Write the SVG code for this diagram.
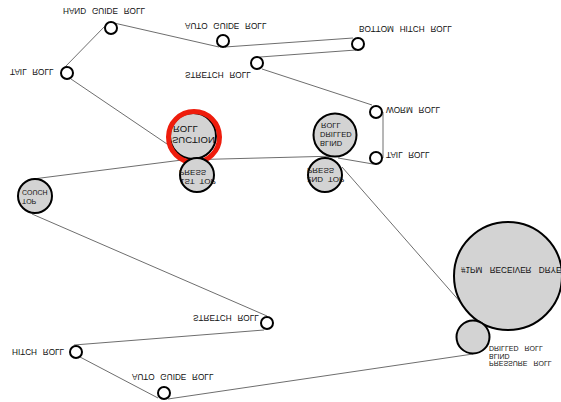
<svg xmlns="http://www.w3.org/2000/svg" width="561" height="402" viewBox="0 0 561 402">
<style>
.bg{fill:#ffffff}
.conn line{stroke:#6e6e6e;stroke-width:1;fill:none}
.roll{fill:#ffffff;stroke:#000000;stroke-width:2}
.big{fill:#d3d3d3;stroke:#000000;stroke-width:2}
.ring{fill:none;stroke:#ee1c0c;stroke-width:5}
text{font-family:"Liberation Sans",Arial,sans-serif;fill:#111111}
.lbl{font-size:8.2px;word-spacing:3.5px}
.in{font-size:8px;word-spacing:3px}
</style>
<rect class="bg" x="0" y="0" width="561" height="402"/>
<g id="connectors" class="conn">
<line x1="65" y1="67" x2="106" y2="25"/>
<line x1="114" y1="23" x2="219" y2="47"/>
<line x1="225" y1="47" x2="353" y2="38"/>
<line x1="356" y1="50" x2="260" y2="57"/>
<line x1="262" y1="69" x2="372" y2="105"/>
<line x1="383" y1="112" x2="383" y2="158"/>
<line x1="373" y1="164" x2="338" y2="158"/>
<line x1="338" y1="156" x2="182" y2="160"/>
<line x1="71" y1="79" x2="167" y2="144"/>
<line x1="33" y1="179" x2="182" y2="160"/>
<line x1="342" y1="167" x2="462" y2="304"/>
<line x1="32" y1="214" x2="267" y2="316"/>
<line x1="264" y1="330" x2="74" y2="345"/>
<line x1="80" y1="357" x2="158" y2="398"/>
<line x1="168" y1="399" x2="473" y2="354"/>
</g>
<g id="hand-guide-roll">
<circle class="roll" cx="111" cy="28" r="6"/>
<text class="lbl" transform="scale(1,-1)" x="63" y="-8">HAND GUIDE ROLL</text>
</g>
<g id="tail-roll-1">
<circle class="roll" cx="67" cy="73" r="6"/>
<text class="lbl" transform="scale(1,-1)" x="10" y="-69">TAIL ROLL</text>
</g>
<g id="auto-guide-roll-1">
<circle class="roll" cx="223" cy="41" r="6"/>
<text class="lbl" transform="scale(1,-1)" x="185" y="-23">AUTO GUIDE ROLL</text>
</g>
<g id="bottom-hitch-roll">
<circle class="roll" cx="358" cy="44" r="6"/>
<text class="lbl" transform="scale(1,-1)" x="359" y="-26">BOTTOM HITCH ROLL</text>
</g>
<g id="stretch-roll-1">
<circle class="roll" cx="257" cy="63" r="6"/>
<text class="lbl" transform="scale(1,-1)" x="185" y="-72">STRETCH ROLL</text>
</g>
<g id="worm-roll">
<circle class="roll" cx="376" cy="112" r="6"/>
<text class="lbl" transform="scale(1,-1)" x="386" y="-107">WORM ROLL</text>
</g>
<g id="tail-roll-2">
<circle class="roll" cx="376" cy="158" r="6"/>
<text class="lbl" transform="scale(1,-1)" x="386" y="-152">TAIL ROLL</text>
</g>
<g id="suction-roll">
<circle class="big" cx="193" cy="136" r="23"/>
<circle class="ring" cx="194" cy="137" r="25.5"/>
<text transform="scale(1,-1)" style="font-size:9.5px"><tspan x="172" y="-137">SUCTION</tspan><tspan x="173" y="-126">ROLL</tspan></text>
</g>
<g id="first-top-press">
<circle class="big" cx="197" cy="175" r="17"/>
<text class="in" transform="scale(1,-1)"><tspan x="180" y="-179">1ST TOP</tspan><tspan x="179" y="-170">PRESS</tspan></text>
</g>
<g id="blind-drilled-roll">
<circle class="big" cx="335" cy="135" r="21.5"/>
<text transform="scale(1,-1)" style="font-size:7.5px"><tspan x="320" y="-141">BLIND</tspan><tspan x="320" y="-132">DRILLED</tspan><tspan x="321" y="-123">ROLL</tspan></text>
</g>
<g id="second-top-press">
<circle class="big" cx="325" cy="175" r="17"/>
<text class="in" transform="scale(1,-1)"><tspan x="307" y="-177">2ND TOP</tspan><tspan x="307" y="-168">PRESS</tspan></text>
</g>
<g id="couch-top">
<circle class="big" cx="35" cy="196" r="17"/>
<text transform="scale(1,-1)" style="font-size:7px"><tspan x="22" y="-199">TOP</tspan><tspan x="22" y="-190">COUCH</tspan></text>
</g>
<g id="receiver-dryer">
<circle class="big" cx="508" cy="276" r="54"/>
<text transform="scale(1,-1)" style="font-size:8.2px;word-spacing:5px" x="461" y="-267">#1PM RECEIVER DRYER</text>
</g>
<g id="blind-drilled-pressure-roll">
<circle class="big" cx="473" cy="337" r="16.5"/>
<text transform="scale(1,-1)" style="font-size:7px;word-spacing:4px"><tspan x="489" y="-361">PRESSURE ROLL</tspan><tspan x="489" y="-353.5">BLIND</tspan><tspan x="489" y="-346">DRILLED ROLL</tspan></text>
</g>
<g id="stretch-roll-2">
<circle class="roll" cx="267" cy="323" r="6"/>
<text class="lbl" transform="scale(1,-1)" x="193" y="-315">STRETCH ROLL</text>
</g>
<g id="hitch-roll">
<circle class="roll" cx="76" cy="352" r="6"/>
<text class="lbl" transform="scale(1,-1)" x="12" y="-349">HITCH ROLL</text>
</g>
<g id="auto-guide-roll-2">
<circle class="roll" cx="164" cy="393" r="6"/>
<text class="lbl" transform="scale(1,-1)" x="132" y="-374">AUTO GUIDE ROLL</text>
</g>
</svg>
